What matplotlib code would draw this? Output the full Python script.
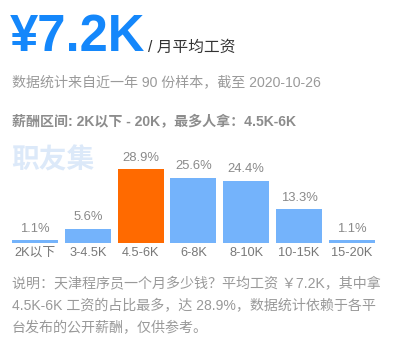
import matplotlib
matplotlib.use("Agg")
import matplotlib.pyplot as plt

# ── Data ─────────────────────────────────────────────────────────────────────
CATEGORIES = ["2K以下", "3-4.5K", "4.5-6K", "6-8K", "8-10K", "10-15K", "15-20K"]
SHARES = [1.1, 5.6, 28.9, 25.6, 24.4, 13.3, 1.1]
HIGHLIGHT = "4.5-6K"

AVG_LABEL = "¥7.2K"
SUBTITLE = "/ 月平均工资"
SOURCE = "数据统计来自近一年 90 份样本，截至 2020-10-26"
RANGE_TEXT = "薪酬区间: 2K以下 - 20K，最多人拿：4.5K-6K"
WATERMARK = "职友集"
NOTE_LINES = [
    "说明：天津程序员一个月多少钱？平均工资 ￥7.2K，其中拿",
    "4.5K-6K 工资的占比最多，达 28.9%，数据统计依赖于各平",
    "台发布的公开薪酬，仅供参考。",
]

FONTS = ["Liberation Sans", "Noto Sans CJK SC", "DejaVu Sans"]
plt.rcParams["font.family"] = FONTS

W, H = 397, 346
fig = plt.figure(figsize=(W / 100, H / 100), dpi=100)


def fy(y):
    return 1 - y / H


def fx(x):
    return x / W


# ── Header text ─────────────────────────────────────────────────────────────
fig.text(fx(10), fy(51), AVG_LABEL, fontsize=36.5, fontweight="bold",
         color="#1487fb", va="baseline", ha="left")
fig.text(fx(148), fy(52), SUBTITLE, fontsize=11.3, color="#333333",
         va="baseline", ha="left")
fig.text(fx(12), fy(82), SOURCE, fontsize=10.1, color="#9a9a9a",
         va="center", ha="left")
fig.text(fx(12), fy(122), RANGE_TEXT, fontsize=10.1, fontweight="bold",
         color="#8c8c8c", va="center", ha="left")

# ── Bars ────────────────────────────────────────────────────────────────────
pitch = 52.8
ax_left = 35 - pitch / 2
ax_w = pitch * len(CATEGORIES)
ax_bottom = 243
ax_top = 140
ax = fig.add_axes([fx(ax_left), fy(ax_bottom), ax_w / W, (ax_bottom - ax_top) / H])
ax.set_xlim(-0.5, len(CATEGORIES) - 0.5)
ymax = (ax_bottom - ax_top) / 2.55
ax.set_ylim(0, ymax)

colors = ["#ff6a00" if c == HIGHLIGHT else "#74b3fb" for c in CATEGORIES]
xs = range(len(CATEGORIES))
bars = ax.bar(xs, SHARES, width=0.87, color=colors, linewidth=0)
for b, v in zip(bars, SHARES):
    ax.annotate(f"{v}%", (b.get_x() + b.get_width() / 2, v),
                xytext=(0, 4), textcoords="offset points",
                ha="center", va="bottom", fontsize=9.4, color="#8a8a8a")

ax.set_xticks(list(xs))
ax.set_xticklabels(CATEGORIES, fontsize=9.2, color="#777777")
ax.tick_params(axis="x", length=0, pad=3)
ax.set_yticks([])
for s in ax.spines.values():
    s.set_visible(False)
ax.patch.set_alpha(0)

# watermark
fig.text(fx(11), fy(161), WATERMARK, fontsize=20, fontweight="bold",
         color="#dce9f9", va="center", ha="left", zorder=0)

# ── Note ────────────────────────────────────────────────────────────────────
for i, line in enumerate(NOTE_LINES):
    fig.text(fx(12), fy(284 + 22 * i), line, fontsize=10.1, color="#999999",
             va="center", ha="left")

fig.savefig("out.png", dpi=100)
